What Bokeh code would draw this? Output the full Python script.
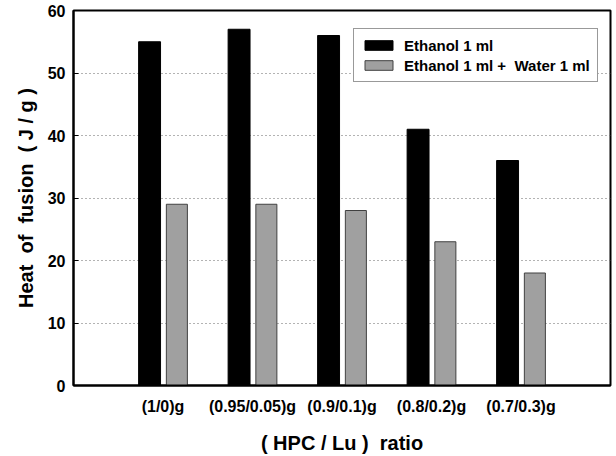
from bokeh.plotting import figure
from bokeh.models import FixedTicker, Range1d, Legend, LegendItem
from bokeh.embed import file_html
from bokeh.resources import INLINE

NB = "\u00a0"

categories = ["(1/0)g", "(0.95/0.05)g", "(0.9/0.1)g", "(0.8/0.2)g", "(0.7/0.3)g"]
ethanol = [55, 57, 56, 41, 36]
ethanol_water = [29, 29, 28, 23, 18]
series_names = ["Ethanol 1 ml", "Ethanol 1 ml +" + NB + " Water 1 ml"]
y_ticks = [0, 10, 20, 30, 40, 50, 60]

FONT = "Liberation Sans"

pos = list(range(1, len(categories) + 1))

p = figure(width=616, height=456, output_backend="svg", toolbar_location=None,
           x_range=Range1d(0, len(categories) + 1), y_range=Range1d(0, 60),
           min_border_left=73, min_border_right=6, min_border_top=10, min_border_bottom=69)

r1 = p.vbar(x=[x - 0.15 for x in pos], top=ethanol, width=0.245,
            fill_color="black", line_color="black", line_width=1)
r2 = p.vbar(x=[x + 0.155 for x in pos], top=ethanol_water, width=0.235,
            fill_color="#a0a0a0", line_color="#404040", line_width=1)

p.outline_line_color = "black"
p.outline_line_width = 2
p.background_fill_color = "white"
p.border_fill_color = "white"

p.xgrid.grid_line_color = None
p.ygrid.grid_line_color = "#666666"
p.ygrid.grid_line_dash = "1 3"
p.ygrid.grid_line_width = 1

p.xaxis.ticker = FixedTicker(ticks=pos)
p.xaxis.major_label_overrides = {x: c for x, c in zip(pos, categories)}
p.yaxis.ticker = FixedTicker(ticks=y_ticks)

for ax in (p.xaxis[0], p.yaxis[0]):
    ax.axis_line_width = 2
    ax.axis_line_color = "black"
    ax.minor_tick_line_color = None
    ax.major_label_text_font = FONT
    ax.major_label_text_font_style = "bold"
    ax.major_label_text_color = "black"
    ax.axis_label_text_font = FONT
    ax.axis_label_text_font_style = "bold"
    ax.axis_label_text_color = "black"
    ax.axis_label_text_font_size = "20px"

p.xaxis.major_tick_in = 0
p.xaxis.major_tick_out = 0
p.xaxis.major_label_text_font_size = "16px"
p.xaxis.major_label_standoff = 12
p.xaxis.axis_label = "(" + NB + "HPC / Lu" + NB + ")" + NB + NB + "ratio"
p.xaxis.axis_label_standoff = 14

p.yaxis.major_tick_in = 5
p.yaxis.major_tick_out = 0
p.yaxis.major_tick_line_width = 1
p.yaxis.major_label_text_font_size = "16px"
p.yaxis.major_label_standoff = 8
p.yaxis.axis_label = ("Heat" + NB + NB + "of" + NB + NB + "fusion" + NB + NB + "(" + NB + "J" + NB + "/" + NB + "g" + NB + ")")
p.yaxis.axis_label_standoff = 8

legend = Legend(items=[LegendItem(label=series_names[0], renderers=[r1]),
                       LegendItem(label=series_names[1], renderers=[r2])],
                location=(280, 303))
legend.glyph_width = 35
legend.glyph_height = 12
legend.label_height = 18
legend.label_standoff = 8
legend.spacing = 2
legend.padding = 7
legend.margin = 0
legend.label_text_font = FONT
legend.label_text_font_style = "bold"
legend.label_text_font_size = "15px"
legend.label_text_color = "black"
legend.border_line_color = "#333333"
legend.border_line_width = 1.5
legend.background_fill_alpha = 1
p.add_layout(legend)

open("out.html", "w").write(file_html(p, INLINE))
